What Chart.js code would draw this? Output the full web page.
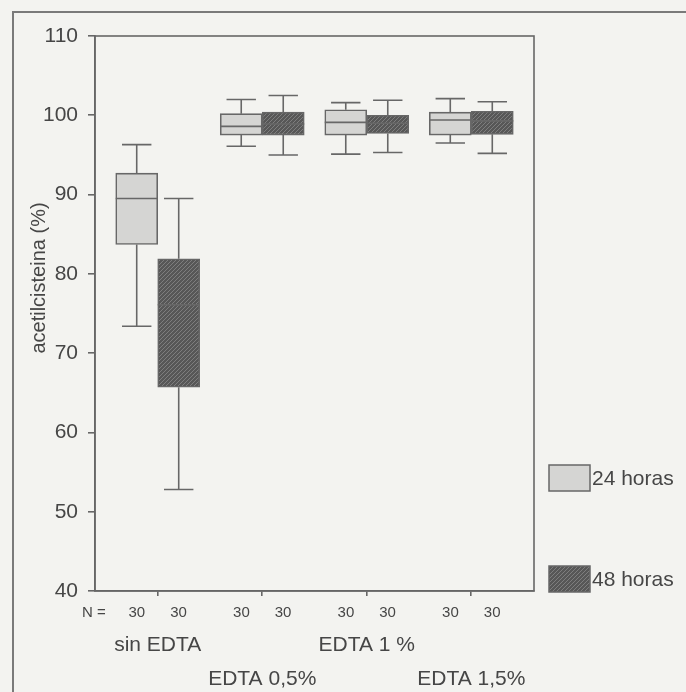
<!DOCTYPE html>
<html>
<head>
<meta charset="utf-8">
<script src="https://cdn.jsdelivr.net/npm/chart.js@4.4.1/dist/chart.umd.min.js"></script>
<style>
  html, body { margin: 0; padding: 0; background: #f3f3f0; }
  #wrap { position: relative; width: 686px; height: 692px; overflow: hidden; }
  #frame { position: absolute; left: 12px; top: 11px; width: 700px; height: 700px;
           border-left: 2px solid #7a7a7a; border-top: 2px solid #7a7a7a; }
  canvas { position: absolute; left: 0; top: 0; }
</style>
</head>
<body>
<div id="wrap">
  <div id="frame"></div>
  <canvas id="boxChart" width="686" height="692"></canvas>
</div>
<script>
// categories and group sizes
const categories = ['sin EDTA', 'EDTA 0,5%', 'EDTA 1 %', 'EDTA 1,5%'];
const nCount24 = [30, 30, 30, 30];
const nCount48 = [30, 30, 30, 30];

// 24 horas: whisker low, Q1, median, Q3, whisker high
const min24 = [73.4, 96.1, 95.1, 96.5];
const q1_24 = [83.7, 97.5, 97.5, 97.5];
const med24 = [89.5, 98.6, 99.1, 99.4];
const q3_24 = [92.7, 100.2, 100.7, 100.4];
const max24 = [96.3, 102.0, 101.6, 102.1];

// 48 horas
const min48 = [52.8, 95.0, 95.3, 95.2];
const q1_48 = [65.7, 97.5, 97.7, 97.6];
const med48 = [76.1, 98.9, 99.0, 99.3];
const q3_48 = [81.9, 100.4, 100.0, 100.5];
const max48 = [89.5, 102.5, 101.9, 101.7];

const yTicks = [40, 50, 60, 70, 80, 90, 100, 110];

const FONT = "'Liberation Sans', Arial, sans-serif";
const INK = '#464646';
const LINE = '#676767';

const ctx = document.getElementById('boxChart').getContext('2d');

function hatchPattern() {
    const c = document.createElement('canvas');
    c.width = 4; c.height = 4;
    const g = c.getContext('2d');
    g.fillStyle = '#575757';
    g.fillRect(0, 0, 4, 4);
    g.strokeStyle = '#7e7e7e';
    g.lineWidth = 1;
    g.beginPath();
    g.moveTo(0, 4); g.lineTo(4, 0);
    g.stroke();
    return ctx.createPattern(c, 'repeat');
}

function boxData(q1, q3) {
    return categories.map((c, i) => ({ x: i + 1, y: [q1[i], q3[i]] }));
}

// whiskers, caps and medians drawn from the data through the scales
const boxWhiskers = {
    id: 'boxWhiskers',
    afterDatasetsDraw(chart) {
        const c = chart.ctx, yScale = chart.scales.y;
        chart.data.datasets.forEach((ds, di) => {
            const meta = chart.getDatasetMeta(di);
            meta.data.forEach((bar, i) => {
                const x = bar.x, half = bar.width / 2, cap = bar.width * 0.35;
                const yLo = yScale.getPixelForValue(ds.whiskerLow[i]);
                const yHi = yScale.getPixelForValue(ds.whiskerHigh[i]);
                const yQ1 = yScale.getPixelForValue(ds.data[i].y[0]);
                const yQ3 = yScale.getPixelForValue(ds.data[i].y[1]);
                const yMed = yScale.getPixelForValue(ds.medians[i]);
                c.save();
                c.strokeStyle = LINE;
                c.lineWidth = 1.6;
                c.beginPath();
                c.moveTo(x, yQ3); c.lineTo(x, yHi);
                c.moveTo(x - cap, yHi); c.lineTo(x + cap, yHi);
                c.moveTo(x, yQ1); c.lineTo(x, yLo);
                c.moveTo(x - cap, yLo); c.lineTo(x + cap, yLo);
                c.moveTo(x - half, yMed); c.lineTo(x + half, yMed);
                c.stroke();
                c.restore();
            });
        });
    }
};

// frame of the plot, y title, "N =" and legend
const decorations = {
    id: 'decorations',
    afterDraw(chart) {
        const c = chart.ctx, a = chart.chartArea;
        c.save();
        c.strokeStyle = LINE;
        c.lineWidth = 1.6;
        c.strokeRect(a.left, a.top, a.right - a.left, a.bottom - a.top);

        c.fillStyle = INK;
        c.font = '20px ' + FONT;
        c.textAlign = 'center';
        c.textBaseline = 'middle';
        c.translate(39, 278);
        c.rotate(-Math.PI / 2);
        c.fillText('acetilcisteina (%)', 0, 0);
        c.restore();

        c.save();
        c.fillStyle = INK;
        c.font = '15px ' + FONT;
        c.textAlign = 'center';
        c.textBaseline = 'middle';
        c.fillText('N =', 94, 613);

        const items = [[465, 0], [566, 1]];
        c.font = '21px ' + FONT;
        c.textAlign = 'left';
        items.forEach(([top, di]) => {
            const ds = chart.data.datasets[di];
            c.fillStyle = ds.backgroundColor;
            c.fillRect(549, top, 41, 26);
            c.strokeStyle = LINE;
            c.lineWidth = 1.5;
            c.strokeRect(549, top, 41, 26);
            c.fillStyle = INK;
            c.fillText(ds.label, 592, top + 14);
        });
        c.restore();
    }
};

new Chart(ctx, {
    type: 'bar',
    data: {
        datasets: [
            {
                label: '24 horas',
                data: boxData(q1_24, q3_24),
                medians: med24,
                whiskerLow: min24,
                whiskerHigh: max24,
                backgroundColor: '#d5d5d3',
                borderColor: LINE,
                borderWidth: 1.6,
                borderSkipped: false,
                barThickness: 42
            },
            {
                label: '48 horas',
                data: boxData(q1_48, q3_48),
                medians: med48,
                whiskerLow: min48,
                whiskerHigh: max48,
                backgroundColor: hatchPattern(),
                borderColor: LINE,
                borderWidth: 1.6,
                borderSkipped: false,
                barThickness: 42
            }
        ]
    },
    options: {
        responsive: false,
        animation: false,
        devicePixelRatio: 1,
        layout: { padding: { top: 36, right: 152, left: 0, bottom: 0 } },
        plugins: {
            legend: { display: false },
            tooltip: { enabled: false }
        },
        scales: {
            x: {
                type: 'linear',
                position: 'bottom',
                offset: false,
                min: 0.4,
                max: 4.6,
                weight: 0,
                afterBuildTicks: axis => { axis.ticks = categories.map((c, i) => ({ value: i + 1 })); },
                afterFit: axis => { axis.height = 34; },
                grid: { offset: false, drawOnChartArea: false, tickLength: 5, color: LINE, lineWidth: 1.6 },
                border: { color: LINE, width: 1.6 },
                ticks: {
                    autoSkip: false,
                    maxRotation: 0,
                    padding: 8,
                    color: INK,
                    font: { family: FONT, size: 15 },
                    callback: (v, i) => nCount24[i] + '      ' + nCount48[i]
                }
            },
            x2: {
                type: 'linear',
                position: 'bottom',
                offset: false,
                min: 0.4,
                max: 4.6,
                weight: 1,
                afterBuildTicks: axis => { axis.ticks = categories.map((c, i) => ({ value: i + 1 })); },
                afterFit: axis => { axis.height = 67; },
                grid: { display: false, drawTicks: false },
                border: { display: false },
                ticks: {
                    autoSkip: false,
                    maxRotation: 0,
                    padding: 3,
                    color: INK,
                    font: { family: FONT, size: 21, lineHeight: 1.62 },
                    callback: (v, i) => i % 2 === 0 ? [categories[i], ''] : ['', categories[i]]
                }
            },
            y: {
                min: 40,
                max: 110,
                afterBuildTicks: axis => { axis.ticks = yTicks.map(v => ({ value: v })); },
                afterFit: axis => { axis.width = 95; },
                grid: { drawOnChartArea: false, tickLength: 7, color: LINE, lineWidth: 1.6 },
                border: { color: LINE, width: 1.6 },
                ticks: {
                    padding: 10,
                    color: INK,
                    font: { family: FONT, size: 21 }
                }
            }
        }
    },
    plugins: [boxWhiskers, decorations]
});
</script>
</body>
</html>
